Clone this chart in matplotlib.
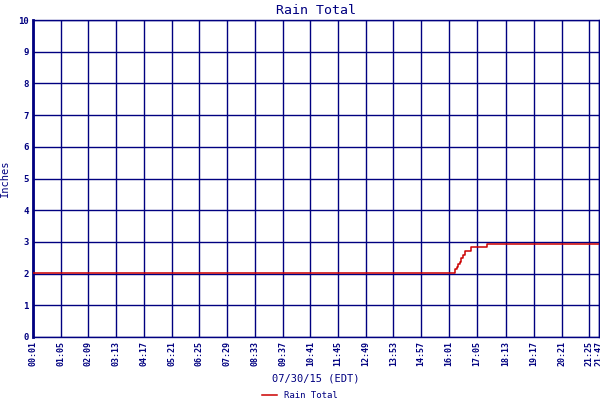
import matplotlib
matplotlib.use('Agg')
import matplotlib.pyplot as plt

# --- # data (07/30/15, EDT)
times = ['00:01', '16:14', '16:16', '16:19', '16:23', '16:27', '16:30',
         '16:34', '16:39', '16:52', '17:28', '21:47']
rain = [2.01, 2.08, 2.13, 2.20, 2.30, 2.38, 2.48, 2.59, 2.72, 2.83, 2.92, 2.92]

tick_labels = ['00:01', '01:05', '02:09', '03:13', '04:17', '05:21', '06:25',
               '07:29', '08:33', '09:37', '10:41', '11:45', '12:49', '13:53',
               '14:57', '16:01', '17:05', '18:13', '19:17', '20:21', '21:25',
               '21:47']
y_ticks = list(range(0, 11))


def to_min(s):
    h, m = s.split(':')
    return int(h) * 60 + int(m)


x = [to_min(t) for t in times]
x_ticks = [to_min(t) for t in tick_labels]

navy = '#000080'
red = '#cc0000'
plt.rcParams['font.family'] = 'DejaVu Sans Mono'

fig = plt.figure(figsize=(6, 4), dpi=100)
ax = fig.add_axes([0.055, 0.1575, 0.943, 0.7925])

ax.step(x, rain, where='post', color=red, lw=1.1, label='Rain Total', zorder=3)

ax.set_xlim(x_ticks[0], x_ticks[-1])
ax.set_ylim(0, 10)
ax.set_xticks(x_ticks)
ax.set_xticklabels(tick_labels, rotation=90, fontsize=6, color=navy,
                   fontweight='bold')
ax.set_yticks(y_ticks)
ax.set_yticklabels([str(v) for v in y_ticks], fontsize=6.5, color=navy,
                   fontweight='bold')
ax.tick_params(length=0, pad=3)
ax.grid(True, color=navy, lw=1)
for side in ['top', 'right', 'bottom']:
    ax.spines[side].set_color(navy)
    ax.spines[side].set_linewidth(1)
ax.spines['left'].set_color(navy)
ax.spines['left'].set_linewidth(2)

ax.set_title('Rain Total', color=navy, fontsize=9.5, pad=4)
ax.set_ylabel('Inches', color=navy, fontsize=7.5, labelpad=6)
ax.set_xlabel('07/30/15 (EDT)', color=navy, fontsize=7.5, labelpad=5)

fig.legend(loc='lower center', bbox_to_anchor=(0.5, -0.02), frameon=False,
           fontsize=6.5, labelcolor=navy, handlelength=1.6)

fig.savefig('out.png', dpi=100)
